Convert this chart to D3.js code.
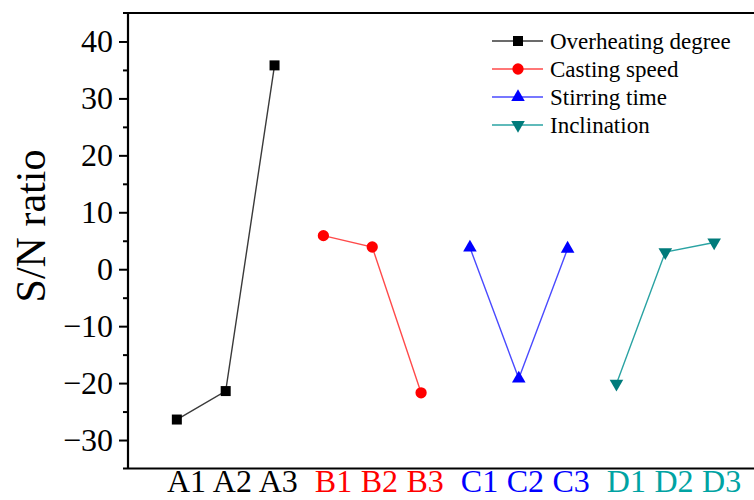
<!DOCTYPE html>
<head>
    <meta charset="utf-8">
    <script src='https://d3js.org/d3.v7.min.js'></script>
    <title>S/N ratio</title>
    <style>
        body { margin: 0; background: #ffffff; }
        svg { display: block; font-family: "Liberation Serif", "Times New Roman", serif; }
    </style>
</head>
<body>
<svg id="chart" width="754" height="500"></svg>
<script>
// data
var categories = ["A1", "A2", "A3", "B1", "B2", "B3", "C1", "C2", "C3", "D1", "D2", "D3"];
var seriesNames = ["Overheating degree", "Casting speed", "Stirring time", "Inclination"];
var overheating = [-26.4, -21.4, 35.8];
var castingSpeed = [5.9, 3.9, -21.7];
var stirringTime = [3.8, -19.2, 3.6];
var inclination = [-20.1, 3.0, 4.7];
var yTicks = [-30, -20, -10, 0, 10, 20, 30, 40];
var yMinorTicks = [-25, -15, -5, 5, 15, 25, 35];

var markerColors = ["#000000", "#ff0000", "#0000ff", "#007b7b"];
var lineColors = ["#3a3a3a", "#ff4a4a", "#4a4aff", "#2aa3a3"];
var labelColors = ["#000000", "#ff0000", "#0000ff", "#00a3a3"];
var shapes = [d3.symbolSquare, d3.symbolCircle, d3.symbolTriangle, d3.symbolTriangle];
var sizes = [100, 100, 80, 80];

var svg = d3.select("#chart");
var plotLeft = 128, plotRight = 763, plotTop = 13, plotBottom = 468.5;

var x = d3.scalePoint().domain(categories).range([plotLeft, plotRight]).padding(1);
var y = d3.scaleLinear().domain([-35, 45]).range([plotBottom, plotTop]);

var series = [overheating, castingSpeed, stirringTime, inclination].map(function(vals, s) {
    return vals.map(function(v, j) { return {cat: categories[s * 3 + j], value: v}; });
});

// frame lines (top and bottom)
svg.append("line").attr("x1", 123).attr("x2", 754).attr("y1", plotTop).attr("y2", plotTop)
    .attr("stroke", "#000").attr("stroke-width", 2.2);
svg.append("line").attr("x1", 123).attr("x2", 754).attr("y1", plotBottom).attr("y2", plotBottom)
    .attr("stroke", "#000").attr("stroke-width", 2.2);

// left axis
var yAxis = svg.append("g")
    .attr("transform", "translate(" + plotLeft + ",0)")
    .call(d3.axisLeft(y).tickValues(yTicks).tickSize(9).tickPadding(6).tickFormat(d3.format("d")));
yAxis.select(".domain").attr("stroke-width", 2.2).attr("d", "M0," + plotTop + "V" + plotBottom);
yAxis.selectAll(".tick line").attr("stroke-width", 2);
yAxis.selectAll(".tick text").attr("font-size", "32px").attr("font-family", "Liberation Serif, serif");

svg.append("g")
    .attr("transform", "translate(" + plotLeft + ",0)")
    .call(d3.axisLeft(y).tickValues(yMinorTicks).tickSize(5).tickFormat(""))
    .call(function(g) { g.select(".domain").remove(); })
    .selectAll(".tick line").attr("stroke-width", 2);

// y label
svg.append("text")
    .attr("transform", "translate(45,226) rotate(-90)")
    .attr("text-anchor", "middle")
    .attr("font-size", "42px")
    .text("S/N ratio");

// series lines and markers
var line = d3.line().x(function(d) { return x(d.cat); }).y(function(d) { return y(d.value); });

series.forEach(function(pts, s) {
    svg.append("path")
        .datum(pts)
        .attr("d", line)
        .attr("fill", "none")
        .attr("stroke", lineColors[s])
        .attr("stroke-width", 1.4);
    svg.selectAll(".m" + s)
        .data(pts)
        .enter().append("path")
        .attr("class", "m" + s)
        .attr("d", d3.symbol().type(shapes[s]).size(sizes[s]))
        .attr("transform", function(d) {
            return "translate(" + x(d.cat) + "," + y(d.value) + ")" + (s == 3 ? " rotate(180)" : "");
        })
        .attr("fill", markerColors[s]);
});

// category labels, written as one line with spaces like the original
var xlab = svg.append("text")
    .attr("x", 167)
    .attr("y", 492)
    .attr("font-size", "32px")
    .attr("word-spacing", "0.5px")
    .attr("xml:space", "preserve")
    .style("white-space", "pre");
categories.forEach(function(c, i) {
    var sep = i == 0 ? "" : (i % 3 == 0 ? "  " : " ");
    xlab.append("tspan").attr("fill", labelColors[Math.floor(i / 3)]).text(sep + c);
});

// legend
var legend = svg.append("g").attr("transform", "translate(492,41)");
seriesNames.forEach(function(name, s) {
    var row = legend.append("g").attr("transform", "translate(0," + (s * 28) + ")");
    row.append("line").attr("x1", 0).attr("x2", 51).attr("y1", 0).attr("y2", 0)
        .attr("stroke", lineColors[s]).attr("stroke-width", 1.4);
    row.append("path")
        .attr("d", d3.symbol().type(shapes[s]).size(sizes[s]))
        .attr("transform", "translate(26,0)" + (s == 3 ? " rotate(180)" : ""))
        .attr("fill", markerColors[s]);
    row.append("text").attr("x", 58).attr("dy", "0.35em")
        .attr("font-size", "23px").text(name);
});
</script>
</body>
</html>
